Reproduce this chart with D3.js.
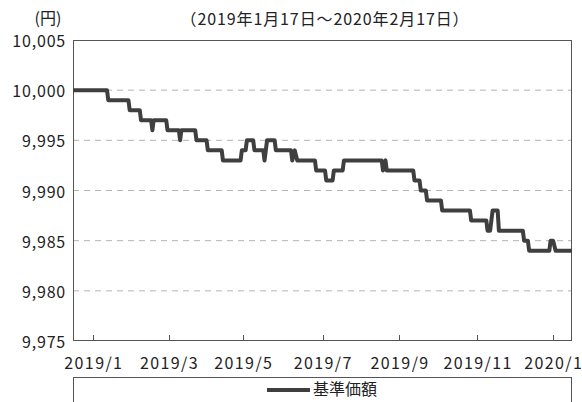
<!DOCTYPE html>
<html>
<head>
<meta charset="utf-8">
<script src="https://cdn.jsdelivr.net/npm/d3@7"></script>
<style>
  html, body { margin: 0; padding: 0; background: #fff; }
  text { font-family: "Noto Sans CJK JP", "Noto Sans", sans-serif; fill: #222; }
</style>
</head>
<body>
<svg id="chart" width="582" height="402"></svg>
<script>
// ---- data ----
const dates = [
  "2019-01-17","2019-02-13","2019-02-14","2019-03-02","2019-03-03","2019-03-11","2019-03-12","2019-03-20",
  "2019-03-21","2019-03-22","2019-04-01","2019-04-02","2019-04-11","2019-04-12","2019-04-13","2019-04-24",
  "2019-04-25","2019-05-03","2019-05-04","2019-05-15","2019-05-16","2019-05-30","2019-05-31","2019-06-03",
  "2019-06-04","2019-06-09","2019-06-10","2019-06-17","2019-06-18","2019-06-20","2019-06-26","2019-06-27",
  "2019-07-09","2019-07-10","2019-07-12","2019-07-14","2019-07-28","2019-07-29","2019-08-05","2019-08-06",
  "2019-08-11","2019-08-12","2019-08-19","2019-08-20","2019-09-19","2019-09-20","2019-09-22","2019-09-23",
  "2019-10-14","2019-10-15","2019-10-19","2019-10-20","2019-10-24","2019-10-25","2019-11-05","2019-11-06",
  "2019-11-28","2019-11-29","2019-12-11","2019-12-12","2019-12-14","2019-12-16","2019-12-20","2019-12-21",
  "2020-01-09","2020-01-10","2020-01-13","2020-01-14","2020-01-30","2020-01-31","2020-02-02","2020-02-04",
  "2020-02-17"
];
const navValues = [
  10000,10000,9999,9999,9998,9998,9997,9997,
  9996,9997,9997,9996,9996,9995,9996,9996,
  9995,9995,9994,9994,9993,9993,9994,9994,
  9995,9995,9994,9994,9993,9995,9995,9994,
  9994,9993,9994,9993,9993,9992,9992,9991,
  9991,9992,9992,9993,9993,9992,9993,9992,
  9992,9991,9991,9990,9990,9989,9989,9988,
  9988,9987,9987,9986,9986,9988,9988,9986,
  9986,9985,9985,9984,9984,9985,9985,9984,
  9984
];
const yTicks = [9975, 9980, 9985, 9990, 9995, 10000, 10005];
const xTickDates = ["2019-02-02","2019-04-03","2019-06-01","2019-08-03","2019-10-03","2019-12-04","2020-02-02"];
const xTickLabels = ["2019/1","2019/3","2019/5","2019/7","2019/9","2019/11","2020/1"];
const unitLabel = "(円)";
const periodLabel = "（2019年1月17日～2020年2月17日）";
const seriesName = "基準価額";
const domainStart = "2019-01-17", domainEnd = "2020-02-17";

// ---- drawing ----
const W = 582, H = 402;
const m = {left: 73, right: 10, top: 40, bottom: 61};
const parse = d3.utcParse("%Y-%m-%d");
const data = dates.map((d, i) => ({date: parse(d), value: navValues[i]}));

const svg = d3.select("#chart");
const x = d3.scaleUtc().domain([parse(domainStart), parse(domainEnd)]).range([m.left, W - m.right]);
const y = d3.scaleLinear().domain([9975, 10005]).range([H - m.bottom, m.top]);

const lineColor = "#3f3f3f", frameColor = "#555";

// gridlines
svg.append("g").selectAll("line")
  .data(yTicks.filter(v => v > 9975 && v < 10005))
  .join("line")
  .attr("x1", m.left).attr("x2", W - m.right)
  .attr("y1", d => y(d)).attr("y2", d => y(d))
  .attr("stroke", "#b4b4b4").attr("stroke-width", 1)
  .attr("stroke-dasharray", "6,5");

// y axis labels
const fmt = d3.format(",");
svg.append("g").selectAll("text")
  .data(yTicks).join("text")
  .attr("x", m.left - 7).attr("y", d => y(d))
  .attr("text-anchor", "end").attr("dominant-baseline", "central")
  .attr("font-size", 16).attr("letter-spacing", 0.8)
  .text(d => fmt(d));

// x axis ticks (inward) + labels
const xt = xTickDates.map(parse);
svg.append("g").selectAll("line")
  .data(xt).join("line")
  .attr("x1", d => Math.round(x(d)) + 0.5).attr("x2", d => Math.round(x(d)) + 0.5)
  .attr("y1", H - m.bottom).attr("y2", H - m.bottom - 6)
  .attr("stroke", frameColor).attr("stroke-width", 1);
svg.append("g").selectAll("text")
  .data(xt).join("text")
  .attr("x", d => x(d) + 0.7).attr("y", H - m.bottom + 21)
  .attr("text-anchor", "middle").attr("dominant-baseline", "central")
  .attr("font-size", 16).attr("letter-spacing", 1.4)
  .text((d, i) => xTickLabels[i]);

// frame
svg.append("rect")
  .attr("x", m.left + 0.5).attr("y", m.top + 0.5)
  .attr("width", W - m.left - m.right - 1).attr("height", H - m.top - m.bottom - 1)
  .attr("fill", "none").attr("stroke", frameColor).attr("stroke-width", 1);

// series line
const line = d3.line().x(d => x(d.date)).y(d => y(d.value)).curve(d3.curveLinear);
svg.append("path").datum(data)
  .attr("d", line)
  .attr("fill", "none").attr("stroke", lineColor)
  .attr("stroke-width", 4).attr("stroke-linejoin", "round");

// titles
svg.append("text").attr("x", 48).attr("y", 17)
  .attr("text-anchor", "middle").attr("dominant-baseline", "central")
  .attr("font-size", 16).text(unitLabel);
svg.append("text").attr("x", 325).attr("y", 18)
  .attr("text-anchor", "middle").attr("dominant-baseline", "central")
  .attr("font-size", 16).attr("letter-spacing", 0.9).text(periodLabel);

// legend
svg.append("rect")
  .attr("x", m.left + 0.5).attr("y", 377.5)
  .attr("width", W - m.left - m.right - 1).attr("height", 40)
  .attr("fill", "none").attr("stroke", frameColor).attr("stroke-width", 1);
svg.append("line")
  .attr("x1", 267).attr("x2", 310).attr("y1", 390).attr("y2", 390)
  .attr("stroke", lineColor).attr("stroke-width", 4);
svg.append("text").attr("x", 313).attr("y", 388)
  .attr("dominant-baseline", "central")
  .attr("font-size", 16).text(seriesName);
</script>
</body>
</html>
